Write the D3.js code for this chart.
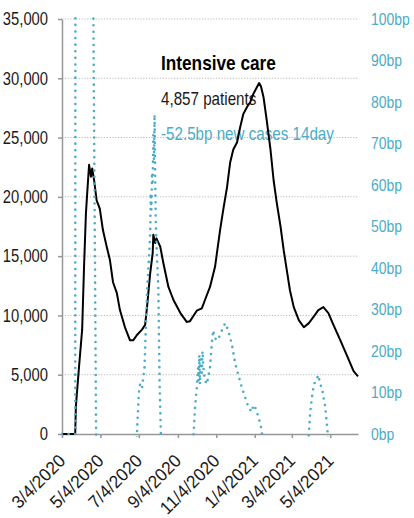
<!DOCTYPE html>
<html>
<head>
<meta charset="utf-8">
<script src="https://cdnjs.cloudflare.com/ajax/libs/d3/7.8.5/d3.min.js"></script>
<style>
    body { margin: 0; background: #ffffff; }
    svg.chart { font-family: "Liberation Sans", Arial, sans-serif; }
    .grid line { stroke: #b8b8b8; stroke-width: 1; stroke-dasharray: 1.2 1.6; }
    .axis path, .axis line { stroke: #969696; stroke-width: 1.5; }
    .axis text { font-size: 18px; fill: #1a1a1a; }
    .axis.right text { fill: #4bacc6; font-size: 17px; }
    .icu { fill: none; stroke: #000000; stroke-width: 2; stroke-linejoin: round; }
    .cases { fill: none; stroke: #4bacc6; stroke-width: 2.6; stroke-linecap: round; stroke-dasharray: 0 6.6; }
</style>
</head>
<body>
<svg class="chart"></svg>
<script>

// Patients in intensive care (left axis).
var icuDates = [
    "2020-03-04", "2020-03-25", "2020-03-26", "2020-03-31", "2020-04-05", "2020-04-08", "2020-04-11", "2020-04-13",
    "2020-04-16", "2020-04-19", "2020-04-21", "2020-04-24", "2020-04-28", "2020-05-03", "2020-05-08", "2020-05-14",
    "2020-05-19", "2020-05-24", "2020-05-30", "2020-06-04", "2020-06-12", "2020-06-20", "2020-06-25", "2020-07-01",
    "2020-07-09", "2020-07-14", "2020-07-17", "2020-07-22", "2020-07-26", "2020-07-27", "2020-07-30", "2020-08-01",
    "2020-08-07", "2020-08-12", "2020-08-20", "2020-08-28", "2020-09-08", "2020-09-18", "2020-09-23", "2020-10-04",
    "2020-10-12", "2020-10-17", "2020-10-25", "2020-11-02", "2020-11-10", "2020-11-15", "2020-11-21", "2020-11-26",
    "2020-12-01", "2020-12-07", "2020-12-12", "2020-12-17", "2020-12-23", "2020-12-28", "2021-01-02", "2021-01-07",
    "2021-01-11", "2021-01-14", "2021-01-18", "2021-01-23", "2021-01-29", "2021-02-03", "2021-02-08", "2021-02-14",
    "2021-02-19", "2021-02-24", "2021-03-01", "2021-03-07", "2021-03-15", "2021-03-23", "2021-03-31", "2021-04-07",
    "2021-04-15", "2021-04-23", "2021-05-01", "2021-05-09", "2021-05-20", "2021-05-31", "2021-06-10", "2021-06-17"
];
var icuPatients = [
    0, 0, 2300, 5650, 8800, 14100, 18600, 20300,
    22700, 21700, 22400, 21400, 19700, 19000, 17200, 15800,
    14700, 12800, 11900, 10450, 9000, 7900, 7900, 8350,
    8800, 9200, 10700, 13550, 15250, 16800, 16100, 16500,
    15800, 14400, 12400, 11300, 10200, 9450, 9500, 10400,
    10600, 11300, 12400, 14100, 17200, 18900, 20800, 22900,
    24000, 24600, 25900, 27000, 27600, 28000, 28700, 29200,
    29600, 29300, 28400, 26500, 24000, 21400, 19500, 17500,
    15500, 13800, 12100, 10700, 9600, 9000, 9350, 9850,
    10450, 10700, 10200, 9200, 7900, 6550, 5300, 4857
];

// Change in 14 day new cases, in basis points (right axis). Values outside 0-100bp are clipped by the plot area.
var caseDates = [
    "2020-03-04", "2020-03-14", "2020-03-25", "2020-03-26", "2020-04-08", "2020-04-22", "2020-04-28", "2020-05-18",
    "2020-06-12", "2020-06-27", "2020-07-01", "2020-07-04", "2020-07-06", "2020-07-09", "2020-07-13", "2020-07-17",
    "2020-07-20", "2020-07-22", "2020-07-23", "2020-07-24", "2020-07-25", "2020-07-26", "2020-07-27", "2020-07-28",
    "2020-07-29", "2020-07-30", "2020-07-31", "2020-08-02", "2020-08-04", "2020-08-06", "2020-08-08", "2020-08-11",
    "2020-08-26", "2020-09-15", "2020-09-25", "2020-09-29", "2020-10-01", "2020-10-04", "2020-10-06", "2020-10-07",
    "2020-10-08", "2020-10-09", "2020-10-10", "2020-10-12", "2020-10-13", "2020-10-15", "2020-10-17", "2020-10-20",
    "2020-10-25", "2020-10-28", "2020-10-30", "2020-11-02", "2020-11-07", "2020-11-10", "2020-11-18", "2020-11-23",
    "2020-11-29", "2020-12-04", "2020-12-09", "2020-12-15", "2020-12-20", "2020-12-25", "2020-12-30", "2021-01-02",
    "2021-01-05", "2021-01-10", "2021-01-15", "2021-01-18", "2021-02-07", "2021-03-09", "2021-03-27", "2021-03-31",
    "2021-04-02", "2021-04-05", "2021-04-08", "2021-04-12", "2021-04-15", "2021-04-18", "2021-04-21", "2021-04-23",
    "2021-04-26", "2021-04-29", "2021-04-30", "2021-05-08", "2021-05-28", "2021-06-17"
];
var caseChangeBp = [
    0, 0, 0, 450, 300, 120, -20, -55,
    -40, -10, 0, 10, 12, 11, 16, 34,
    42, 48, 58, 54, 63, 60, 72, 66,
    77, 62, 50, 42, 35, 12, 0, -25,
    -45, -30, -8, 0, 6, 11, 16, 13,
    19, 12, 18, 14, 20, 15, 13, 12,
    16, 22, 25, 23, 22.6, 24, 26.7, 25,
    21.4, 17, 14.2, 11, 8.7, 6.5, 5.3, 7,
    6.3, 4.1, 1, -6, -40, -30, -6, 0,
    5, 9, 12, 13, 14.2, 12, 11, 9,
    6.5, 1.7, 0, -25, -45, -52.5
];

var leftTicks = [0, 5000, 10000, 15000, 20000, 25000, 30000, 35000];
var rightTicks = [0, 10, 20, 30, 40, 50, 60, 70, 80, 90, 100];
var xTickDates = ["2020-03-04", "2020-05-04", "2020-07-04", "2020-09-04", "2020-11-04", "2021-01-04", "2021-03-04", "2021-05-04"];
var xStart = "2020-03-04";
var xEnd = "2021-06-17";

var titleText = "Intensive care";
var patientsText = "4,857 patients";
var casesText = "-52.5bp new cases 14day";

function narrow (selection, factor) { // No narrow face is installed, so squeeze the glyphs to a narrow width.
    selection.each(function () {
        var w = this.getComputedTextLength();
        d3.select(this)
            .attr("textLength", w * factor)
            .attr("lengthAdjust", "spacingAndGlyphs");
    });
};

window.onload = function () {

    var width = 414;
    var height = 518;
    var plot = { left: 62, right: 358, top: 19, bottom: 434 }; // Plot area in pixels.
    var squeeze = 0.82;

    var parseDate = d3.timeParse("%Y-%m-%d");

    var xScale = d3.scaleTime()
        .domain([parseDate(xStart), parseDate(xEnd)])
        .range([plot.left, plot.right]);

    var yLeft = d3.scaleLinear() // Patients.
        .domain([0, 35000])
        .range([plot.bottom, plot.top]);

    var yRight = d3.scaleLinear() // Basis points.
        .domain([0, 100])
        .range([plot.bottom, plot.top]);

    var icuData = icuDates.map(function (d, i) { return { date: parseDate(d), value: icuPatients[i] }; });
    var caseData = caseDates.map(function (d, i) { return { date: parseDate(d), value: caseChangeBp[i] }; });

    var svgElement = d3.select("svg.chart")
        .attr("width", width)
        .attr("height", height);

    svgElement.append("defs")
        .append("clipPath")
            .attr("id", "plot-clip")
        .append("rect")
            .attr("x", plot.left - 3)
            .attr("y", plot.top - 2)
            .attr("width", plot.right - plot.left + 6)
            .attr("height", plot.bottom - plot.top + 5);

    svgElement.append("g") // Dotted horizontal gridlines for the left axis.
        .attr("class", "grid")
        .selectAll("line")
        .data(leftTicks.filter(function (t) { return t > 0; }))
        .enter()
            .append("line")
            .attr("x1", plot.left)
            .attr("x2", plot.right)
            .attr("y1", function (t) { return yLeft(t); })
            .attr("y2", function (t) { return yLeft(t); });

    var leftAxis = svgElement.append("g")
        .attr("class", "axis left")
        .attr("transform", "translate(" + plot.left + ",0)")
        .call(d3.axisLeft(yLeft).tickValues(leftTicks).tickFormat(d3.format(",")).tickSize(4).tickPadding(10).tickSizeOuter(0));
    leftAxis.selectAll("text").call(narrow, squeeze);

    var rightAxis = svgElement.append("g")
        .attr("class", "axis right")
        .attr("transform", "translate(" + plot.right + ",0)")
        .call(d3.axisRight(yRight).tickValues(rightTicks).tickFormat(function (t) { return t + "bp"; }).tickSize(0).tickPadding(13));
    rightAxis.select(".domain").remove();
    rightAxis.selectAll("text").call(narrow, squeeze);

    var xAxis = svgElement.append("g")
        .attr("class", "axis bottom")
        .attr("transform", "translate(0," + plot.bottom + ")")
        .call(d3.axisBottom(xScale).tickValues(xTickDates.map(parseDate)).tickFormat(d3.timeFormat("%-m/%-d/%Y")).tickSize(4).tickSizeOuter(0));

    xAxis.selectAll("text") // Rotated date labels, ending just under their tick.
        .attr("x", 0)
        .attr("y", 0)
        .attr("dy", 0)
        .attr("text-anchor", "end")
        .attr("transform", "translate(4,28) rotate(-45)")
        .call(narrow, 0.96);

    // Annotation text sits under the lines.
    svgElement.append("text")
        .attr("x", 161)
        .attr("y", 70)
        .attr("font-size", 21)
        .attr("font-weight", "bold")
        .attr("fill", "#000000")
        .text(titleText)
        .call(narrow, squeeze);

    svgElement.append("text")
        .attr("x", 161)
        .attr("y", 105)
        .attr("font-size", 18.5)
        .attr("fill", "#1a1a1a")
        .text(patientsText)
        .call(narrow, squeeze);

    svgElement.append("text")
        .attr("x", 161)
        .attr("y", 140)
        .attr("font-size", 18.5)
        .attr("fill", "#4bacc6")
        .text(casesText)
        .call(narrow, squeeze);

    var icuLine = d3.line()
        .x(function (d) { return xScale(d.date); })
        .y(function (d) { return yLeft(d.value); });

    var caseLine = d3.line()
        .x(function (d) { return xScale(d.date); })
        .y(function (d) { return yRight(d.value); });

    var series = svgElement.append("g")
        .attr("clip-path", "url(#plot-clip)");

    series.append("path")
        .datum(icuData)
        .attr("class", "icu")
        .attr("d", icuLine);

    series.append("path")
        .datum(caseData)
        .attr("class", "cases")
        .attr("d", caseLine);
};
</script>
</body>
</html>
